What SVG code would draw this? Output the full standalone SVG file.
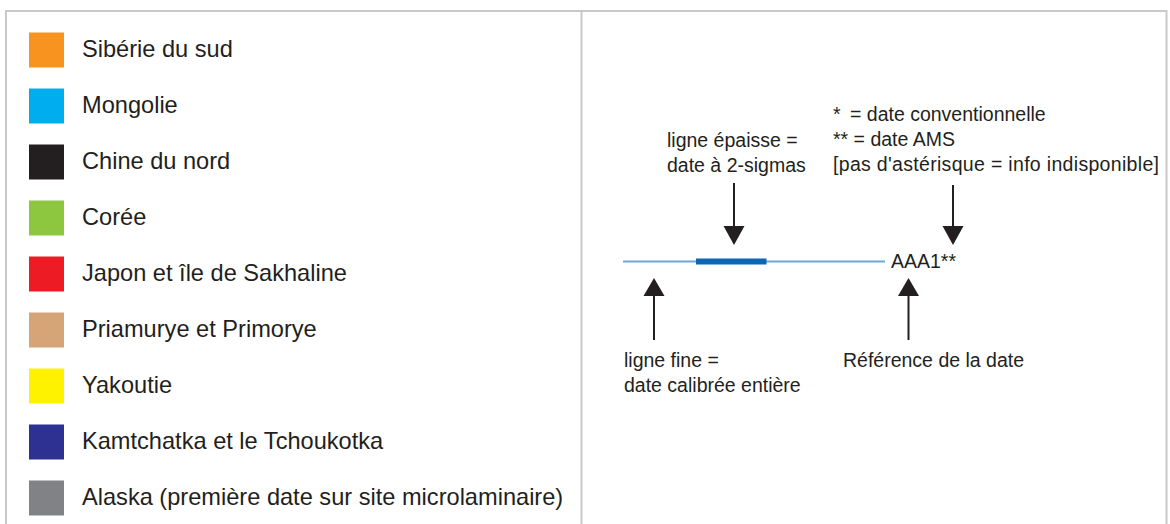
<svg xmlns="http://www.w3.org/2000/svg" width="1170" height="524" viewBox="0 0 1170 524">
<defs>
<style>
.frame{fill:none;stroke:#c9c9cb;stroke-width:2}
.leg{font-family:"Liberation Sans",Arial,sans-serif;font-size:23.6px;fill:#231f20}
.lbl{font-family:"Liberation Sans",Arial,sans-serif;font-size:19.5px;fill:#231f20}
.arr{stroke:#231f20;stroke-width:2;fill:none}
.head{fill:#231f20}
</style>
</defs>
<rect width="1170" height="524" fill="#ffffff"/>
<g id="frame">
<path class="frame" d="M6,530 V11 H1166.5 V530"/>
<line class="frame" x1="581.5" y1="11" x2="581.5" y2="530"/>
</g>
<g id="legend">
<g id="leg-siberie"><rect x="29" y="32.5" width="35" height="35" fill="#f7931e"/><text class="leg" x="82" y="57">Sibérie du sud</text></g>
<g id="leg-mongolie"><rect x="29" y="88.5" width="35" height="35" fill="#00aeef"/><text class="leg" x="82" y="113">Mongolie</text></g>
<g id="leg-chine"><rect x="29" y="144.5" width="35" height="35" fill="#231f20"/><text class="leg" x="82" y="169">Chine du nord</text></g>
<g id="leg-coree"><rect x="29" y="200.5" width="35" height="35" fill="#8dc63f"/><text class="leg" x="82" y="225">Corée</text></g>
<g id="leg-japon"><rect x="29" y="256.5" width="35" height="35" fill="#ed1c24"/><text class="leg" x="82" y="281">Japon et île de Sakhaline</text></g>
<g id="leg-priamurye"><rect x="29" y="312.5" width="35" height="35" fill="#d6a577"/><text class="leg" x="82" y="337">Priamurye et Primorye</text></g>
<g id="leg-yakoutie"><rect x="29" y="368.5" width="35" height="35" fill="#fff200"/><text class="leg" x="82" y="393">Yakoutie</text></g>
<g id="leg-kamtchatka"><rect x="29" y="424.5" width="35" height="35" fill="#2e3192"/><text class="leg" x="82" y="449">Kamtchatka et le Tchoukotka</text></g>
<g id="leg-alaska"><rect x="29" y="480.5" width="35" height="35" fill="#808285"/><text class="leg" x="82" y="505">Alaska (première date sur site microlaminaire)</text></g>
</g>
<g id="sample">
<line x1="623" y1="261.5" x2="885" y2="261.5" stroke="#6ea7d8" stroke-width="2"/>
<line x1="696" y1="261.5" x2="766.5" y2="261.5" stroke="#0b66b5" stroke-width="6"/>
<text class="lbl" x="891" y="268">AAA1**</text>
</g>
<g id="note-epaisse">
<text class="lbl" x="667" y="147">ligne épaisse =</text>
<text class="lbl" x="667" y="172">date à 2-sigmas</text>
</g>
<g id="note-asterisque">
<text class="lbl" x="833" y="121">*</text><text class="lbl" x="850" y="121">= date conventionnelle</text>
<text class="lbl" x="833" y="146">** = date AMS</text>
<text class="lbl" x="833" y="171" textLength="326">[pas d'astérisque = info indisponible]</text>
</g>
<g id="note-fine">
<text class="lbl" x="624" y="367">ligne fine =</text>
<text class="lbl" x="624" y="392">date calibrée entière</text>
</g>
<g id="note-reference">
<text class="lbl" x="843" y="367">Référence de la date</text>
</g>
<g id="connectors">
<line class="arr" x1="734" y1="183" x2="734" y2="228"/>
<polygon class="head" points="723.5,226 744.5,226 734,245"/>
<line class="arr" x1="953" y1="185" x2="953" y2="228"/>
<polygon class="head" points="942.5,226 963.5,226 953,245"/>
<line class="arr" x1="654" y1="340" x2="654" y2="294"/>
<polygon class="head" points="643.5,296 664.5,296 654,278"/>
<line class="arr" x1="908.5" y1="340" x2="908.5" y2="294"/>
<polygon class="head" points="898,296 919,296 908.5,278"/>
</g>
</svg>
